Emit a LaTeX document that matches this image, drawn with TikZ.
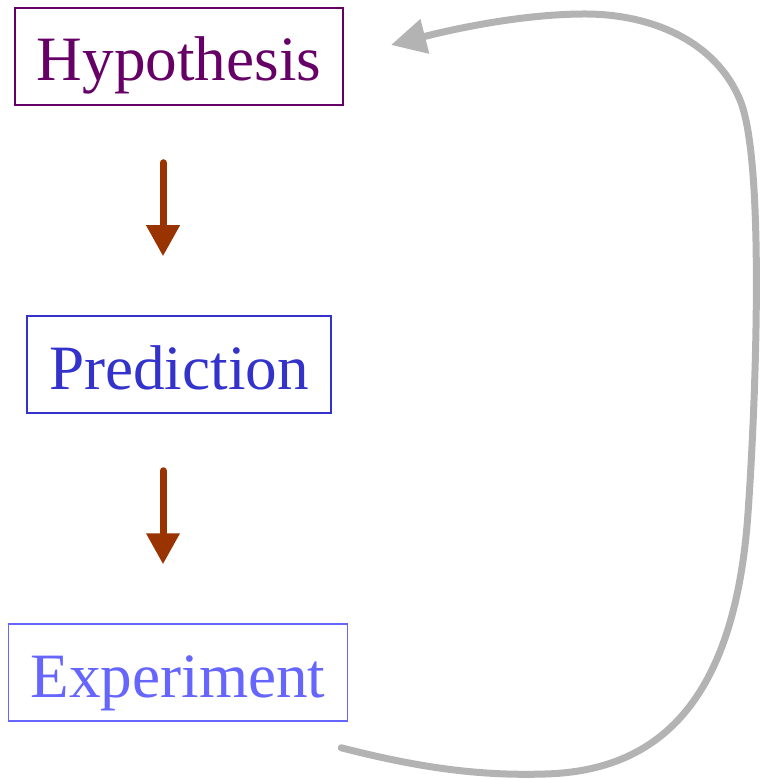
\documentclass[tikz,border=0pt]{standalone}
\usepackage{fontspec}
\setmainfont{Liberation Serif}
\usetikzlibrary{arrows.meta,positioning}
\definecolor{HypPurple}{RGB}{102,0,102}
\definecolor{PredBlue}{RGB}{51,51,204}
\definecolor{ExpBlue}{RGB}{102,102,255}
\definecolor{ArrBrown}{RGB}{153,51,0}
\definecolor{LoopGray}{RGB}{179,179,179}

\begin{document}
\begin{tikzpicture}[x=0.5pt,y=-0.5pt,
    box/.style={draw,line width=0.75pt,inner xsep=11pt,minimum height=48.5pt,
                text height=24.5pt,text depth=0pt,
                font=\fontsize{31.6}{36}\selectfont},
    arr/.style={-{Triangle[length=15.5pt,width=16pt]},ArrBrown,line width=3.5pt,line cap=round},
    loop/.style={-{Triangle[length=17.5pt,width=17pt]},LoopGray,line width=3.5pt,line cap=round}
  ]
    \useasboundingbox (0,0) rectangle (759,779);
    \node[box,draw=HypPurple,text=HypPurple] (H) at (179,56.5) {Hypothesis};
    \node[box,draw=PredBlue,text=PredBlue] (P) at (179,364.5) {Prediction};
    \node[box,draw=ExpBlue,text=ExpBlue] (E) at (178,672.5) {Experiment};
    \draw[arr] ([xshift=-8pt,yshift=-28.5pt]H.south) -- ([xshift=-8pt,yshift=29.5pt]P.north);
    \draw[arr] ([xshift=-8pt,yshift=-28.5pt]P.south) -- ([xshift=-7.5pt,yshift=29.5pt]E.north);
    \coordinate (back) at ([xshift=-3.5pt,yshift=-13pt]E.south east);
    \draw[loop] (back) .. controls (420,768) and (480,776) .. (545,774)
      .. controls (660,771) and (735,700) .. (748,513)
      .. controls (756,400) and (765,160) .. (740,100)
      .. controls (715,40) and (650,14) .. (585,14)
      .. controls (520,14) and (450,30) .. ([xshift=23.5pt,yshift=5.75pt]H.east);
  \end{tikzpicture}
\end{document}
